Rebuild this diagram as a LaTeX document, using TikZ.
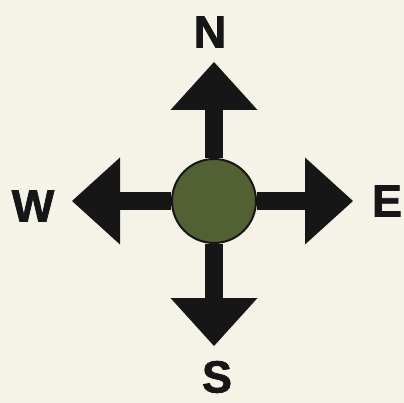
\documentclass[tikz,border=0pt]{standalone}
\usepackage{fontspec}
\setmainfont{Liberation Sans}[BoldFeatures={FakeBold=1.6}]
\usetikzlibrary{arrows.meta}
\definecolor{paper}{RGB}{245,242,231}
\definecolor{inkblack}{RGB}{22,22,22}
\definecolor{hubgreen}{RGB}{82,97,52}

\begin{document}
\begin{tikzpicture}[x=1pt, y=-1pt,
    point/.style={font=\fontsize{45}{45}\selectfont\bfseries, text=inkblack, inner sep=0pt},
    hubdisc/.style={circle, draw=inkblack, line width=2pt, fill=hubgreen, minimum size=84pt, inner sep=0pt},
    arr/.style={-{Triangle[length=48pt, width=87pt, line width=0pt]}, line width=18pt, inkblack}]
  \fill[paper] (0,0) rectangle (404,403);
  \useasboundingbox (0,0) rectangle (404,403);
  % centre disc and arrow tips
  \node[hubdisc] (hub) at (214,201) {};
  \coordinate (ntip) at (214,62);
  \coordinate (stip) at (214,346);
  \coordinate (wtip) at (72,201);
  \coordinate (etip) at (353,201);
  \draw[arr] (hub) -- (ntip);
  \draw[arr] (hub) -- (stip);
  \draw[arr] (hub) -- (wtip);
  \draw[arr] (hub) -- (etip);
  % compass letters
  \node[point] (north) at (210,32) {N};
  \node[point] (south) at (217,377) {S};
  \node[point] (west) at (33,206) {W};
  \node[point] (east) at (387,201) {E};
\end{tikzpicture}
\end{document}
